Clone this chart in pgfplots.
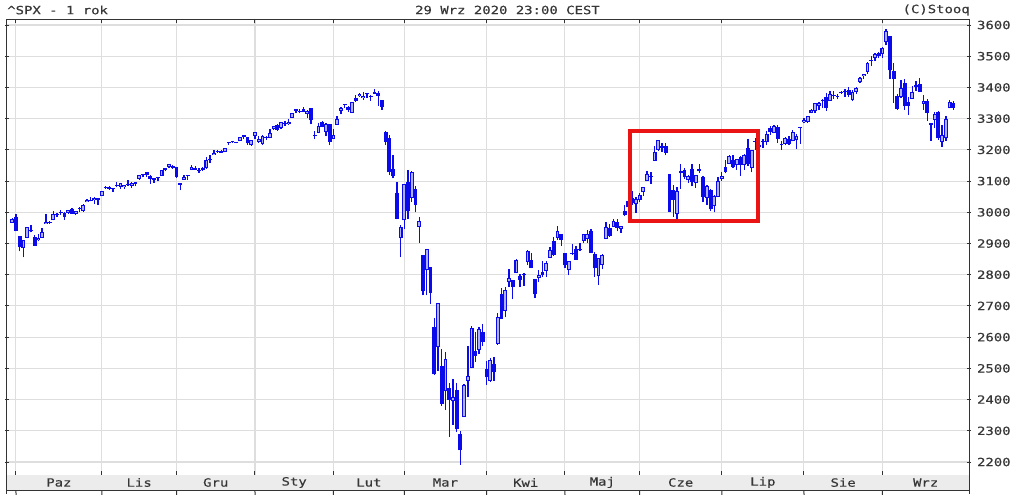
\documentclass[border=0pt]{standalone}
\usepackage{pgfplots}
\pgfplotsset{compat=1.18}
\usepackage{pgfplotstable}
\usepackage{fontspec}
\newfontfamily\chartfont[FakeStretch=1.23,FakeBold=0.4]{DejaVu Sans Mono}

\definecolor{candle}{RGB}{10,10,235}
\definecolor{hollow}{RGB}{175,175,255}
\definecolor{gridc}{RGB}{222,222,222}
\definecolor{txt}{RGB}{55,55,55}
\definecolor{band}{RGB}{236,236,236}
\definecolor{box}{RGB}{235,20,20}

% daily OHLC, 30 Sep 2019 .. 29 Sep 2020 (one row per session)
\pgfplotstableread{
o h l c
2967 2983 2967 2977
2984 2993 2939 2940
2925 2925 2875 2888
2885 2911 2856 2911
2919 2954 2919 2952
2944 2960 2936 2939
2920 2926 2893 2893
2911 2929 2907 2919
2919 2949 2917 2938
2963 2993 2963 2970
2966 2973 2963 2966
2974 3003 2974 2996
2990 2998 2985 2990
3001 3008 2992 2998
2997 3000 2976 2986
2997 3007 2995 3007
3011 3015 2995 2996
2994 3005 2991 3005
3015 3016 3000 3010
3003 3027 3002 3023
3032 3044 3032 3039
3035 3048 3035 3037
3040 3050 3026 3047
3047 3047 3023 3038
3051 3067 3051 3067
3079 3085 3075 3078
3081 3084 3072 3075
3075 3078 3066 3077
3087 3098 3080 3085
3081 3093 3074 3093
3080 3088 3076 3087
3089 3103 3085 3092
3084 3098 3079 3094
3091 3098 3083 3097
3108 3120 3105 3120
3118 3124 3112 3122
3128 3128 3114 3120
3115 3119 3091 3108
3109 3110 3095 3104
3111 3113 3099 3110
3117 3134 3117 3134
3135 3143 3131 3141
3146 3154 3143 3154
3147 3150 3139 3141
3144 3144 3111 3114
3087 3094 3070 3093
3104 3119 3103 3113
3119 3119 3104 3117
3135 3151 3135 3146
3142 3149 3136 3136
3135 3142 3126 3133
3136 3144 3133 3142
3141 3176 3139 3169
3167 3183 3157 3169
3184 3198 3184 3191
3195 3198 3191 3193
3195 3199 3191 3191
3192 3206 3192 3205
3223 3226 3216 3221
3226 3228 3222 3224
3226 3226 3221 3223
3227 3240 3227 3240
3247 3248 3234 3240
3240 3241 3217 3221
3215 3232 3212 3231
3245 3258 3236 3258
3226 3246 3222 3235
3218 3247 3215 3246
3242 3245 3232 3237
3239 3267 3237 3253
3266 3276 3264 3275
3281 3283 3261 3265
3271 3288 3268 3288
3285 3294 3277 3283
3282 3299 3281 3289
3303 3317 3303 3317
3324 3330 3319 3330
3321 3330 3317 3321
3330 3338 3320 3322
3316 3327 3302 3326
3333 3333 3282 3295
3247 3259 3235 3244
3255 3286 3253 3276
3290 3294 3272 3273
3257 3286 3243 3284
3282 3282 3215 3226
3236 3268 3236 3249
3281 3307 3281 3298
3325 3338 3314 3335
3345 3348 3334 3346
3336 3341 3322 3328
3318 3352 3318 3352
3366 3376 3353 3358
3371 3382 3370 3379
3366 3385 3361 3374
3378 3381 3367 3380
3369 3375 3356 3370
3380 3394 3379 3386
3381 3389 3341 3373
3361 3361 3329 3338
3258 3260 3215 3226
3239 3247 3119 3128
3140 3183 3109 3116
3063 3097 2977 2979
2917 2960 2856 2954
2974 3091 2945 3090
3097 3137 2977 3003
3046 3131 3034 3130
3076 3083 3000 3024
2954 2986 2902 2972
2864 2864 2734 2747
2814 2883 2734 2882
2826 2826 2707 2741
2631 2661 2479 2481
2570 2711 2492 2711
2509 2563 2381 2386
2426 2554 2367 2529
2437 2454 2281 2398
2394 2467 2320 2409
2431 2453 2296 2305
2291 2301 2192 2237
2344 2450 2344 2447
2458 2571 2408 2476
2501 2637 2501 2630
2556 2616 2520 2541
2559 2632 2545 2627
2615 2641 2571 2585
2498 2523 2448 2471
2459 2533 2456 2527
2515 2538 2460 2489
2578 2677 2575 2664
2739 2757 2658 2659
2685 2761 2663 2750
2776 2819 2762 2790
2783 2783 2721 2762
2805 2852 2805 2846
2796 2802 2762 2783
2799 2807 2764 2800
2842 2879 2831 2875
2846 2869 2820 2823
2785 2786 2727 2737
2788 2815 2776 2799
2810 2845 2794 2798
2813 2843 2792 2837
2855 2888 2853 2878
2909 2921 2861 2863
2919 2955 2912 2940
2931 2931 2893 2912
2869 2869 2822 2831
2815 2844 2798 2843
2869 2898 2864 2868
2883 2891 2848 2848
2878 2902 2877 2881
2909 2932 2903 2930
2916 2944 2903 2930
2940 2946 2870 2870
2866 2874 2793 2820
2795 2853 2767 2853
2830 2865 2817 2864
2914 2968 2914 2954
2949 2964 2922 2923
2954 2980 2954 2972
2970 2979 2939 2949
2948 2957 2934 2955
3004 3022 2988 2992
3016 3036 2970 3036
3047 3069 3023 3030
3025 3049 2999 3044
3039 3062 3032 3056
3064 3081 3052 3081
3099 3131 3099 3123
3112 3129 3090 3112
3164 3212 3164 3194
3200 3233 3196 3232
3213 3223 3193 3207
3213 3223 3182 3190
3124 3124 3000 3002
3071 3088 2985 3041
2994 3080 2966 3067
3131 3154 3076 3125
3136 3141 3108 3113
3102 3120 3094 3115
3140 3156 3083 3098
3094 3121 3079 3118
3139 3155 3127 3131
3114 3115 3032 3050
3047 3086 3024 3084
3073 3074 3005 3009
3019 3054 3000 3053
3050 3112 3048 3100
3106 3128 3101 3116
3144 3166 3125 3130
3155 3183 3155 3180
3166 3184 3143 3145
3153 3172 3137 3170
3176 3180 3116 3152
3153 3187 3136 3185
3205 3235 3149 3155
3141 3201 3128 3198
3226 3238 3201 3227
3208 3220 3199 3216
3224 3234 3206 3225
3224 3259 3215 3252
3269 3277 3248 3257
3255 3279 3253 3276
3272 3280 3223 3236
3219 3227 3200 3216
3220 3241 3214 3239
3234 3244 3216 3218
3227 3265 3227 3258
3232 3251 3204 3246
3271 3272 3220 3271
3288 3303 3285 3295
3290 3307 3286 3307
3317 3331 3317 3328
3323 3351 3318 3349
3340 3353 3329 3351
3356 3363 3335 3360
3370 3381 3326 3334
3356 3388 3356 3380
3373 3387 3363 3373
3369 3379 3362 3373
3381 3388 3379 3382
3387 3395 3370 3390
3393 3400 3370 3375
3361 3391 3355 3386
3386 3400 3379 3397
3418 3432 3413 3431
3436 3444 3426 3444
3450 3481 3444 3479
3485 3501 3468 3485
3495 3509 3484 3508
3510 3515 3493 3500
3507 3528 3495 3527
3544 3588 3535 3581
3565 3565 3427 3455
3454 3479 3350 3427
3372 3380 3329 3332
3369 3425 3367 3399
3413 3426 3329 3339
3353 3369 3311 3341
3364 3403 3364 3384
3408 3420 3389 3401
3411 3429 3385 3385
3347 3375 3329 3357
3357 3362 3292 3319
3286 3286 3229 3281
3296 3320 3271 3316
3320 3323 3233 3237
3226 3279 3210 3247
3237 3307 3228 3298
3334 3361 3333 3352
3351 3358 3328 3335
}\spx

\begin{document}
\begin{tikzpicture}[font=\chartfont\fontsize{8.5}{10}\selectfont]
\path[use as bounding box] (0,0) rectangle (767.25pt,370.5pt);
\begin{axis}[
  at={(5.25pt,14.25pt)}, anchor=south west,
  scale only axis, width=721.5pt, height=342pt,
  xmin=-2.4, xmax=255.2, ymin=2158.4, ymax=3619.2,
  clip mode=individual,
  axis line style={black!80, line width=0.75pt},
  xtick={0,23,43,64,85,104,126,147,167,189,211,232},
  xticklabels={},
  ytick={2200,2300,...,3600},
  yticklabel pos=right,
  yticklabel style={anchor=west, text=txt, xshift=1pt},
  /pgf/number format/assume math mode=true,
  /pgf/number format/set thousands separator={},
  xtick align=inside, ytick align=center,
  major tick length=3pt,
  tick style={black!80, line width=0.75pt},
  grid=major,
  major grid style={gridc, line width=0.8pt},
]
% wicks
\addplot[draw=none, mark=none, error bars/.cd, y dir=plus, y explicit,
  error mark=none, error bar style={draw=candle, line width=1pt}]
  table[x expr=\coordindex-1, y=l, y error expr=\thisrow{h}-\thisrow{l}] {\spx};
% bodies
\addplot[draw=none, mark=none, error bars/.cd, y dir=plus, y explicit,
  error mark=none, error bar style={draw=candle, line width=2.9pt}]
  table[x expr=\coordindex-1, y expr={min(\thisrow{o},\thisrow{c})},
        y error expr={max(abs(\thisrow{c}-\thisrow{o}),3)}] {\spx};
% hollow inside of rising candles
\addplot[draw=none, mark=none, error bars/.cd, y dir=plus, y explicit,
  error mark=none, error bar style={draw=hollow, line width=1.3pt}]
  table[x expr=\coordindex-1, y expr={min(\thisrow{o},\thisrow{c})+3.2},
        y error expr={max(\thisrow{c}-\thisrow{o}-6.4,0)}] {\spx};

% month band under the plot
\fill[band] (rel axis cs:0,0) rectangle ([yshift=-11.25pt]rel axis cs:1,0);
\draw[black!80, line width=0.75pt] ([yshift=-11.25pt]rel axis cs:0,0) -- ([yshift=-11.25pt]rel axis cs:1,0);
\draw[black!80, line width=0.75pt] (rel axis cs:0,0) -- ([yshift=-14.25pt]rel axis cs:0,0);
\draw[black!80, line width=0.75pt] (rel axis cs:1,0) -- ([yshift=-14.25pt]rel axis cs:1,0);
\pgfplotsinvokeforeach{0,23,43,64,85,104,126,147,167,189,211,232}{
  \draw[black!80, line width=0.75pt] ([yshift=-11.25pt]axis cs:#1,2158.4) -- ++(0,-3pt);
}
\node[text=txt] at ([yshift=-5.6pt]axis cs:11.5,2158.4) {Paz};
\node[text=txt] at ([yshift=-5.6pt]axis cs:33,2158.4) {Lis};
\node[text=txt] at ([yshift=-5.6pt]axis cs:53.5,2158.4) {Gru};
\node[text=txt] at ([yshift=-5.6pt]axis cs:74.5,2158.4) {Sty};
\node[text=txt] at ([yshift=-5.6pt]axis cs:94.5,2158.4) {Lut};
\node[text=txt] at ([yshift=-5.6pt]axis cs:115,2158.4) {Mar};
\node[text=txt] at ([yshift=-5.6pt]axis cs:136.5,2158.4) {Kwi};
\node[text=txt] at ([yshift=-5.6pt]axis cs:157,2158.4) {Maj};
\node[text=txt] at ([yshift=-5.6pt]axis cs:178,2158.4) {Cze};
\node[text=txt] at ([yshift=-5.6pt]axis cs:200,2158.4) {Lip};
\node[text=txt] at ([yshift=-5.6pt]axis cs:221.5,2158.4) {Sie};
\node[text=txt] at ([yshift=-5.6pt]axis cs:243.6,2158.4) {Wrz};

% highlighted range
\draw[box, line width=3pt] (axis cs:164.4,2972) rectangle (axis cs:198.7,3260.4);
\end{axis}
\node[anchor=west, text=txt, inner sep=0pt] at (5.25pt,363pt) {\^{}SPX - 1 rok};
\node[text=txt, inner sep=0pt] at (380.6pt,363pt) {29 Wrz 2020 23:00 CEST};
\node[anchor=east, text=txt, inner sep=0pt] at (727.5pt,363pt) {(C)Stooq};
\end{tikzpicture}
\end{document}
